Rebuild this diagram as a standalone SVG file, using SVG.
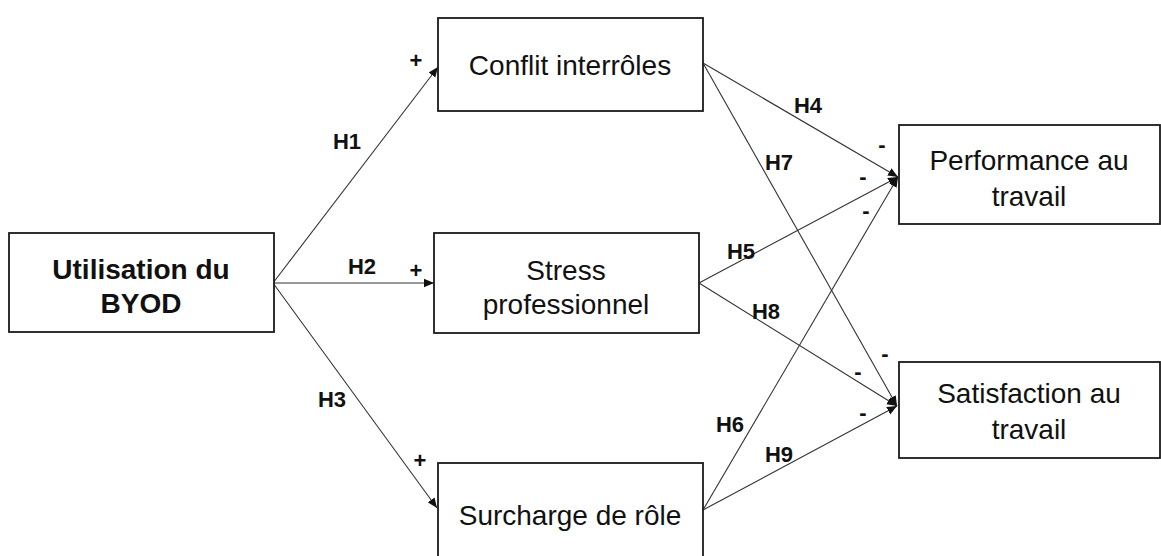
<svg xmlns="http://www.w3.org/2000/svg" width="1161" height="556" viewBox="0 0 1161 556">
<style>
.box{fill:#fff;stroke:#1a1a1a;stroke-width:1.8}
.t{font-family:"Liberation Sans",Arial,sans-serif;font-size:28px;fill:#111;text-anchor:middle}
.b{font-weight:bold}
.lbl{font-family:"Liberation Sans",Arial,sans-serif;font-size:22px;font-weight:bold;fill:#111;text-anchor:middle}
.c{stroke:#333;stroke-width:1.1;fill:none;marker-end:url(#ah)}
</style>
<defs>
<marker id="ah" markerUnits="userSpaceOnUse" markerWidth="12" markerHeight="10" refX="10" refY="5" orient="auto">
<path d="M0,0.8 L10,5 L0,9.2 Z" fill="#111"/>
</marker>
</defs>
<rect width="1161" height="556" fill="#fff"/>
<g id="connectors">
<line class="c" x1="273" y1="283" x2="438" y2="67"/>
<line class="c" x1="273" y1="283" x2="434" y2="283"/>
<line class="c" x1="273" y1="283" x2="437" y2="508"/>
<line class="c" x1="703" y1="63" x2="898" y2="177"/>
<line class="c" x1="703" y1="63" x2="897" y2="406"/>
<line class="c" x1="699" y1="283" x2="898" y2="177"/>
<line class="c" x1="699" y1="283" x2="897" y2="406"/>
<line class="c" x1="703" y1="510" x2="898" y2="177"/>
<line class="c" x1="703" y1="510" x2="897" y2="406"/>
</g>
<g id="labels">
<text class="lbl" x="416" y="68">+</text>
<text class="lbl" x="347" y="149">H1</text>
<text class="lbl" x="362" y="274">H2</text>
<text class="lbl" x="416" y="278">+</text>
<text class="lbl" x="332" y="407">H3</text>
<text class="lbl" x="420" y="468">+</text>
<text class="lbl" x="808" y="113">H4</text>
<text class="lbl" x="779" y="170">H7</text>
<text class="lbl" x="741" y="259">H5</text>
<text class="lbl" x="766" y="319">H8</text>
<text class="lbl" x="730" y="432">H6</text>
<text class="lbl" x="779" y="462">H9</text>
<text class="lbl" x="882" y="152">-</text>
<text class="lbl" x="863" y="184">-</text>
<text class="lbl" x="866" y="218">-</text>
<text class="lbl" x="885" y="361">-</text>
<text class="lbl" x="858" y="379">-</text>
<text class="lbl" x="863" y="420">-</text>
</g>
<g id="byod">
<rect class="box" x="9" y="233" width="265" height="99"/>
<text class="t b" x="141" y="279">Utilisation du</text>
<text class="t b" x="141" y="313">BYOD</text>
</g>
<g id="conflit">
<rect class="box" x="438" y="18" width="265" height="93"/>
<text class="t" x="570" y="75">Conflit interrôles</text>
</g>
<g id="stress">
<rect class="box" x="434" y="233" width="265" height="100"/>
<text class="t" x="566" y="280">Stress</text>
<text class="t" x="566" y="314">professionnel</text>
</g>
<g id="surcharge">
<rect class="box" x="438" y="463" width="265" height="95"/>
<text class="t" x="570" y="525">Surcharge de rôle</text>
</g>
<g id="performance">
<rect class="box" x="899" y="125" width="261" height="99"/>
<text class="t" x="1029" y="170">Performance au</text>
<text class="t" x="1029" y="206">travail</text>
</g>
<g id="satisfaction">
<rect class="box" x="899" y="362" width="261" height="96"/>
<text class="t" x="1029" y="403">Satisfaction au</text>
<text class="t" x="1029" y="439">travail</text>
</g>
</svg>
